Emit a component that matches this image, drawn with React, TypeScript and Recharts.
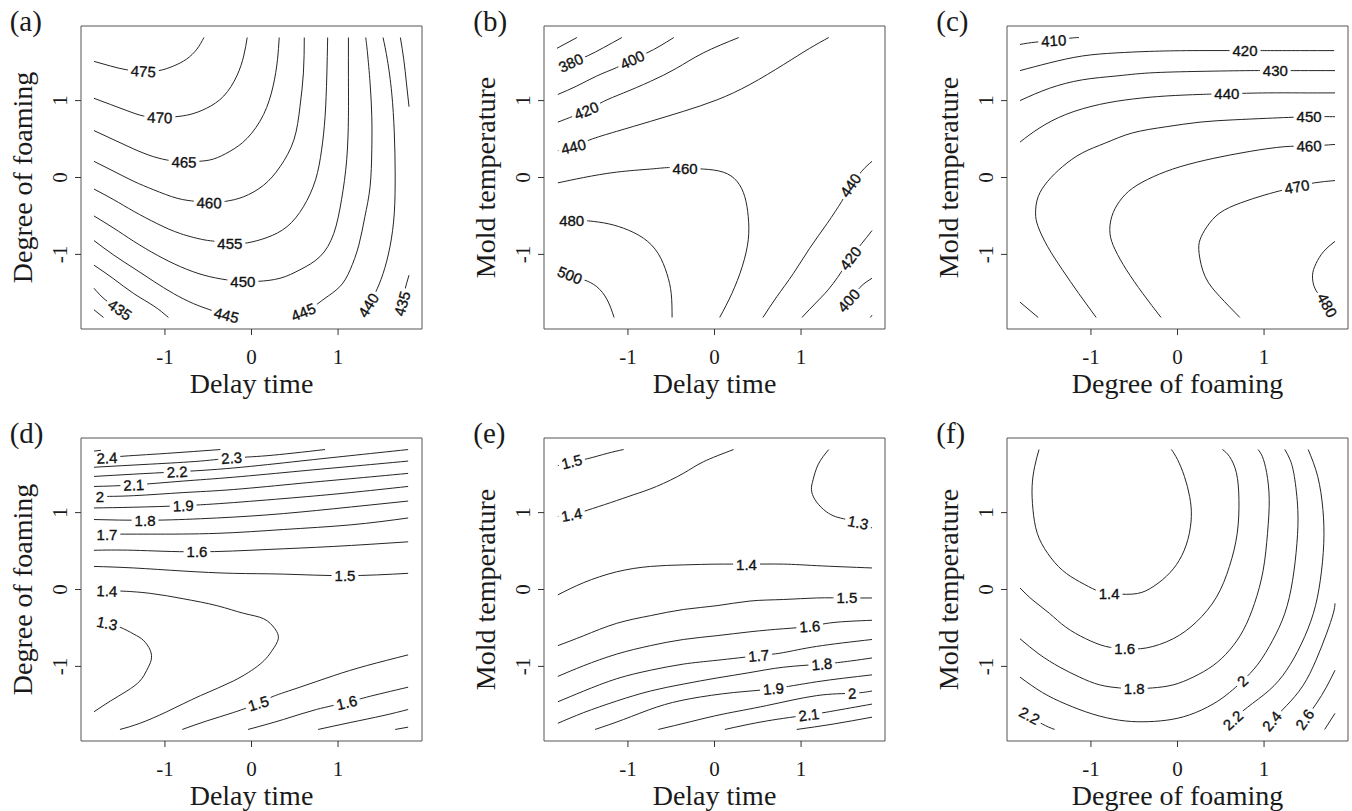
import React from 'react';
import { ComposedChart, Line, Scatter, XAxis, YAxis, ReferenceArea, Label } from 'recharts';

type Pair = [number, number];
type Tag = { text: string; x: number; y: number; angle: number };

// ---------- (a) Delay time vs Degree of foaming ----------
const a475: Pair[] = [[-1.82, 1.51], [-1.63, 1.45], [-1.44, 1.4], [-1.25, 1.38], [-1.07, 1.39], [-0.9, 1.45], [-0.75, 1.54], [-0.63, 1.67], [-0.55, 1.82]];
const a470: Pair[] = [[-1.82, 1.03], [-1.63, 0.95], [-1.44, 0.87], [-1.25, 0.8], [-1.06, 0.78], [-0.88, 0.79], [-0.71, 0.82], [-0.52, 0.9], [-0.32, 1.06], [-0.17, 1.32], [-0.09, 1.58], [-0.05, 1.82]];
const a465: Pair[] = [[-1.82, 0.61], [-1.59, 0.49], [-1.36, 0.37], [-1.13, 0.27], [-0.94, 0.22], [-0.78, 0.2], [-0.61, 0.21], [-0.44, 0.24], [-0.25, 0.34], [-0.05, 0.51], [0.14, 0.82], [0.25, 1.19], [0.3, 1.53], [0.32, 1.82]];
const a460: Pair[] = [[-1.82, 0.21], [-1.59, 0.08], [-1.36, -0.05], [-1.13, -0.16], [-0.86, -0.27], [-0.65, -0.31], [-0.49, -0.33], [-0.3, -0.31], [-0.09, -0.25], [0.14, -0.1], [0.33, 0.14], [0.49, 0.49], [0.56, 0.92], [0.6, 1.36], [0.61, 1.82]];
const a455: Pair[] = [[-1.82, -0.15], [-1.59, -0.29], [-1.36, -0.44], [-1.09, -0.6], [-0.82, -0.73], [-0.55, -0.81], [-0.42, -0.83], [-0.25, -0.86], [-0.05, -0.85], [0.18, -0.78], [0.41, -0.64], [0.6, -0.38], [0.74, -0.03], [0.81, 0.36], [0.85, 0.79], [0.87, 1.32], [0.88, 1.82]];
const a450: Pair[] = [[-1.82, -0.5], [-1.59, -0.66], [-1.36, -0.83], [-1.09, -1.01], [-0.82, -1.16], [-0.55, -1.27], [-0.29, -1.33], [-0.1, -1.35], [0.08, -1.35], [0.33, -1.31], [0.56, -1.2], [0.79, -1.03], [0.95, -0.73], [1.04, -0.29], [1.1, 0.23], [1.12, 0.79], [1.12, 1.3], [1.12, 1.82]];
const a445L: Pair[] = [[-1.82, -0.82], [-1.59, -1.01], [-1.36, -1.18], [-1.13, -1.35], [-0.9, -1.51], [-0.67, -1.64], [-0.48, -1.72], [-0.29, -1.79], [-0.13, -1.82]];
const a445R: Pair[] = [[0.49, -1.82], [0.6, -1.75], [0.74, -1.66], [0.85, -1.57], [1.02, -1.42], [1.14, -1.2], [1.24, -0.88], [1.31, -0.51], [1.37, -0.12], [1.39, 0.36], [1.39, 0.79], [1.37, 1.23], [1.34, 1.62], [1.32, 1.82]];
const a440L: Pair[] = [[-1.82, -1.14], [-1.59, -1.32], [-1.36, -1.51], [-1.13, -1.67], [-0.96, -1.82]];
const a440R: Pair[] = [[1.27, -1.82], [1.35, -1.66], [1.43, -1.5], [1.52, -1.25], [1.6, -0.9], [1.65, -0.46], [1.66, 0.06], [1.65, 0.58], [1.62, 1.1], [1.57, 1.53], [1.52, 1.82]];
const a435L: Pair[] = [[-1.82, -1.44], [-1.69, -1.59], [-1.52, -1.72], [-1.38, -1.82]];
const a435R: Pair[] = [[1.7, -1.82], [1.74, -1.64], [1.77, -1.47], [1.82, -1.27]];
const a435T: Pair[] = [[1.72, 1.82], [1.76, 1.53], [1.79, 1.23], [1.82, 0.92]];
const a430: Pair[] = [[-1.82, -1.72], [-1.71, -1.82]];
const aTags: Tag[] = [
  { text: '475', x: -1.25, y: 1.38, angle: 3 },
  { text: '470', x: -1.06, y: 0.78, angle: 2 },
  { text: '465', x: -0.78, y: 0.2, angle: 1 },
  { text: '460', x: -0.49, y: -0.33, angle: 1 },
  { text: '455', x: -0.25, y: -0.86, angle: 0 },
  { text: '450', x: -0.1, y: -1.35, angle: 0 },
  { text: '445', x: -0.29, y: -1.79, angle: 14 },
  { text: '445', x: 0.6, y: -1.75, angle: -22 },
  { text: '440', x: 1.35, y: -1.66, angle: -58 },
  { text: '435', x: 1.74, y: -1.64, angle: -75 },
  { text: '435', x: -1.52, y: -1.72, angle: 35 },
];

// ---------- (b) Delay time vs Mold temperature ----------
const b360: Pair[] = [[-1.82, 1.68], [-1.59, 1.82]];
const b380: Pair[] = [[-1.81, 1.39], [-1.66, 1.49], [-1.47, 1.58], [-1.28, 1.69], [-1.07, 1.82]];
const b400: Pair[] = [[-1.81, 1.08], [-1.59, 1.19], [-1.36, 1.32], [-1.13, 1.43], [-0.95, 1.53], [-0.78, 1.62], [-0.63, 1.71], [-0.47, 1.82]];
const b420: Pair[] = [[-1.81, 0.72], [-1.48, 0.87], [-1.28, 0.99], [-1.05, 1.1], [-0.74, 1.25], [-0.44, 1.42], [-0.13, 1.62], [0.28, 1.82]];
const b440: Pair[] = [[-1.81, 0.35], [-1.63, 0.4], [-1.44, 0.49], [-1.13, 0.6], [-0.74, 0.73], [-0.36, 0.86], [0.03, 1.01], [0.41, 1.21], [0.8, 1.47], [1.1, 1.68], [1.32, 1.82]];
const b460: Pair[] = [[-1.81, -0.07], [-1.51, 0.0], [-1.13, 0.07], [-0.74, 0.11], [-0.51, 0.13], [-0.34, 0.12], [-0.13, 0.11], [0.1, 0.07], [0.26, -0.05], [0.35, -0.25], [0.39, -0.51], [0.39, -0.81], [0.32, -1.16], [0.2, -1.51], [0.06, -1.82]];
const b480: Pair[] = [[-1.78, -0.56], [-1.65, -0.56], [-1.51, -0.56], [-1.28, -0.59], [-1.05, -0.66], [-0.82, -0.79], [-0.65, -0.99], [-0.55, -1.25], [-0.5, -1.51], [-0.49, -1.82]];
const b500: Pair[] = [[-1.78, -1.2], [-1.67, -1.27], [-1.51, -1.33], [-1.36, -1.42], [-1.24, -1.59], [-1.16, -1.82]];
const b440R: Pair[] = [[0.56, -1.82], [0.72, -1.55], [0.91, -1.25], [1.1, -0.92], [1.3, -0.6], [1.47, -0.31], [1.57, -0.12], [1.7, 0.08], [1.82, 0.21]];
const b420R: Pair[] = [[1.01, -1.82], [1.18, -1.62], [1.37, -1.38], [1.57, -1.05], [1.7, -0.86], [1.82, -0.69]];
const b400R: Pair[] = [[1.47, -1.75], [1.55, -1.62], [1.68, -1.43], [1.82, -1.31]];
const b380R: Pair[] = [[1.8, -1.82], [1.82, -1.79]];
const bTags: Tag[] = [
  { text: '380', x: -1.66, y: 1.49, angle: -25 },
  { text: '400', x: -0.95, y: 1.53, angle: -25 },
  { text: '420', x: -1.48, y: 0.87, angle: -22 },
  { text: '440', x: -1.63, y: 0.4, angle: -13 },
  { text: '460', x: -0.34, y: 0.12, angle: 0 },
  { text: '480', x: -1.65, y: -0.56, angle: 0 },
  { text: '500', x: -1.67, y: -1.27, angle: 22 },
  { text: '440', x: 1.57, y: -0.1, angle: -55 },
  { text: '420', x: 1.57, y: -1.05, angle: -52 },
  { text: '400', x: 1.55, y: -1.6, angle: -48 },
];

// ---------- (c) Degree of foaming vs Mold temperature ----------
const c410: Pair[] = [[-1.82, 1.73], [-1.64, 1.76], [-1.43, 1.78], [-1.25, 1.81], [-1.14, 1.82]];
const c420: Pair[] = [[-1.82, 1.39], [-1.48, 1.49], [-1.1, 1.58], [-0.71, 1.62], [-0.32, 1.64], [0.18, 1.65], [0.78, 1.65], [1.04, 1.65], [1.42, 1.65], [1.81, 1.65]];
const c430: Pair[] = [[-1.82, 1.0], [-1.48, 1.16], [-1.1, 1.27], [-0.71, 1.32], [-0.32, 1.36], [0.26, 1.38], [0.84, 1.39], [1.13, 1.39], [1.42, 1.39], [1.82, 1.39]];
const c440: Pair[] = [[-1.82, 0.46], [-1.6, 0.64], [-1.29, 0.82], [-0.9, 0.95], [-0.52, 1.02], [-0.13, 1.06], [0.26, 1.08], [0.57, 1.09], [1.04, 1.1], [1.42, 1.1], [1.82, 1.1]];
const c450: Pair[] = [[-0.94, -1.82], [-1.14, -1.51], [-1.33, -1.2], [-1.5, -0.9], [-1.61, -0.64], [-1.64, -0.46], [-1.61, -0.25], [-1.5, -0.05], [-1.33, 0.14], [-1.1, 0.32], [-0.83, 0.45], [-0.52, 0.58], [-0.13, 0.66], [0.26, 0.72], [0.65, 0.75], [1.04, 0.77], [1.52, 0.79], [1.82, 0.79]];
const c460: Pair[] = [[-0.19, -1.82], [-0.4, -1.51], [-0.59, -1.2], [-0.72, -0.94], [-0.78, -0.73], [-0.76, -0.51], [-0.67, -0.31], [-0.52, -0.14], [-0.28, 0.01], [0.03, 0.14], [0.42, 0.25], [0.84, 0.34], [1.23, 0.4], [1.52, 0.41], [1.82, 0.43]];
const c470: Pair[] = [[0.72, -1.82], [0.49, -1.55], [0.32, -1.29], [0.25, -0.99], [0.26, -0.81], [0.34, -0.64], [0.49, -0.46], [0.73, -0.33], [1.0, -0.23], [1.23, -0.16], [1.38, -0.12], [1.58, -0.07], [1.82, -0.04]];
const c480: Pair[] = [[1.82, -0.83], [1.69, -0.96], [1.6, -1.12], [1.56, -1.27], [1.58, -1.42], [1.64, -1.53], [1.73, -1.66], [1.79, -1.79]];
const c440B: Pair[] = [[-1.82, -1.62], [-1.61, -1.82]];
const cTags: Tag[] = [
  { text: '410', x: -1.43, y: 1.78, angle: -3 },
  { text: '420', x: 0.78, y: 1.65, angle: 0 },
  { text: '430', x: 1.13, y: 1.39, angle: 0 },
  { text: '440', x: 0.57, y: 1.09, angle: 0 },
  { text: '450', x: 1.52, y: 0.79, angle: 0 },
  { text: '460', x: 1.52, y: 0.41, angle: -2 },
  { text: '470', x: 1.38, y: -0.12, angle: -10 },
  { text: '480', x: 1.73, y: -1.66, angle: 62 },
];

// ---------- (d) Delay time vs Degree of foaming ----------
const d25: Pair[] = [[-1.82, 1.8], [-1.74, 1.81]];
const d24: Pair[] = [[-1.82, 1.7], [-1.67, 1.71], [-1.52, 1.73], [-0.98, 1.77], [-0.36, 1.82]];
const d23: Pair[] = [[-1.82, 1.59], [-1.17, 1.63], [-0.59, 1.67], [-0.23, 1.71], [0.18, 1.74], [0.85, 1.82]];
const d22: Pair[] = [[-1.82, 1.47], [-1.36, 1.5], [-0.86, 1.53], [-0.21, 1.58], [0.56, 1.67], [1.14, 1.74], [1.81, 1.82]];
const d21: Pair[] = [[-1.82, 1.34], [-1.36, 1.36], [-0.79, 1.41], [-0.21, 1.46], [0.56, 1.54], [1.14, 1.6], [1.81, 1.67]];
const d20: Pair[] = [[-1.82, 1.21], [-1.75, 1.21], [-1.36, 1.22], [-0.79, 1.26], [-0.21, 1.3], [0.56, 1.38], [1.14, 1.44], [1.81, 1.51]];
const d19: Pair[] = [[-1.82, 1.06], [-1.36, 1.07], [-0.79, 1.09], [-0.21, 1.13], [0.56, 1.2], [1.14, 1.26], [1.81, 1.34]];
const d18: Pair[] = [[-1.82, 0.91], [-1.23, 0.9], [-0.59, 0.92], [0.18, 0.97], [0.95, 1.05], [1.81, 1.15]];
const d17: Pair[] = [[-1.82, 0.72], [-1.67, 0.72], [-1.17, 0.72], [-0.4, 0.73], [0.37, 0.78], [1.14, 0.84], [1.81, 0.93]];
const d16: Pair[] = [[-1.82, 0.51], [-1.36, 0.51], [-0.63, 0.49], [0.18, 0.52], [0.95, 0.56], [1.81, 0.62]];
const d15T: Pair[] = [[-1.82, 0.3], [-1.36, 0.28], [-0.79, 0.24], [-0.21, 0.21], [0.37, 0.2], [1.08, 0.18], [1.81, 0.21]];
const d14: Pair[] = [[-1.75, -0.01], [-1.67, -0.02], [-1.52, -0.02], [-1.17, -0.05], [-0.79, -0.12], [-0.4, -0.21], [-0.09, -0.31], [0.14, -0.38], [0.27, -0.51], [0.31, -0.64], [0.24, -0.79], [0.1, -0.97], [-0.21, -1.19], [-0.59, -1.38], [-0.98, -1.59], [-1.29, -1.74], [-1.52, -1.82]];
const d13: Pair[] = [[-1.81, -0.36], [-1.67, -0.44], [-1.52, -0.49], [-1.36, -0.58], [-1.25, -0.66], [-1.17, -0.79], [-1.16, -0.92], [-1.21, -1.05], [-1.29, -1.19], [-1.44, -1.32], [-1.63, -1.45], [-1.82, -1.59]];
const d15B: Pair[] = [[-0.8, -1.82], [-0.52, -1.71], [-0.21, -1.6], [0.08, -1.48], [0.25, -1.39], [0.56, -1.27], [0.95, -1.12], [1.33, -0.99], [1.81, -0.85]];
const d16B: Pair[] = [[-0.04, -1.82], [0.37, -1.69], [0.75, -1.56], [1.1, -1.47], [1.33, -1.4], [1.81, -1.27]];
const d17B: Pair[] = [[0.77, -1.82], [1.14, -1.73], [1.52, -1.64], [1.81, -1.56]];
const d18B: Pair[] = [[1.66, -1.82], [1.81, -1.79]];
const dTags: Tag[] = [
  { text: '2.4', x: -1.67, y: 1.71, angle: -2 },
  { text: '2.3', x: -0.23, y: 1.71, angle: -4 },
  { text: '2.2', x: -0.86, y: 1.53, angle: -3 },
  { text: '2.1', x: -1.36, y: 1.36, angle: -2 },
  { text: '2', x: -1.75, y: 1.21, angle: 0 },
  { text: '1.9', x: -0.79, y: 1.09, angle: -2 },
  { text: '1.8', x: -1.23, y: 0.9, angle: 0 },
  { text: '1.7', x: -1.67, y: 0.72, angle: 0 },
  { text: '1.6', x: -0.63, y: 0.49, angle: 0 },
  { text: '1.5', x: 1.08, y: 0.18, angle: 0 },
  { text: '1.4', x: -1.67, y: -0.02, angle: 2 },
  { text: '1.3', x: -1.67, y: -0.44, angle: 12 },
  { text: '1.5', x: 0.08, y: -1.48, angle: -17 },
  { text: '1.6', x: 1.1, y: -1.47, angle: -13 },
];

// ---------- (e) Delay time vs Mold temperature ----------
const e15T: Pair[] = [[-1.81, 1.61], [-1.65, 1.66], [-1.47, 1.7], [-1.24, 1.77], [-1.05, 1.82]];
const e14T: Pair[] = [[-1.81, 0.95], [-1.65, 0.97], [-1.47, 1.03], [-1.2, 1.13], [-0.94, 1.23], [-0.67, 1.34], [-0.36, 1.51], [-0.13, 1.66], [0.22, 1.82]];
const e13: Pair[] = [[1.32, 1.82], [1.2, 1.63], [1.14, 1.43], [1.12, 1.3], [1.16, 1.17], [1.26, 1.04], [1.37, 0.96], [1.49, 0.92], [1.66, 0.87], [1.82, 0.8]];
const e14: Pair[] = [[-1.81, -0.07], [-1.51, 0.09], [-1.13, 0.23], [-0.74, 0.3], [-0.36, 0.32], [0.03, 0.33], [0.37, 0.33], [0.8, 0.33], [1.18, 0.31], [1.82, 0.28]];
const e15: Pair[] = [[-1.81, -0.73], [-1.51, -0.6], [-1.13, -0.44], [-0.74, -0.34], [-0.36, -0.26], [0.03, -0.21], [0.41, -0.15], [0.8, -0.13], [1.18, -0.11], [1.53, -0.11], [1.82, -0.11]];
const e16: Pair[] = [[-1.81, -1.13], [-1.51, -0.99], [-1.13, -0.84], [-0.74, -0.73], [-0.36, -0.65], [0.03, -0.6], [0.41, -0.55], [0.8, -0.51], [1.1, -0.48], [1.37, -0.43], [1.82, -0.4]];
const e17: Pair[] = [[-1.81, -1.46], [-1.51, -1.32], [-1.13, -1.16], [-0.74, -1.05], [-0.36, -0.97], [0.03, -0.92], [0.51, -0.86], [0.8, -0.82], [1.18, -0.74], [1.82, -0.65]];
const e18: Pair[] = [[-1.81, -1.74], [-1.51, -1.6], [-1.13, -1.45], [-0.74, -1.32], [-0.36, -1.23], [0.03, -1.15], [0.41, -1.08], [0.8, -1.01], [1.24, -0.97], [1.57, -0.93], [1.82, -0.89]];
const e19: Pair[] = [[-1.38, -1.82], [-1.05, -1.69], [-0.67, -1.53], [-0.28, -1.42], [0.22, -1.34], [0.68, -1.29], [1.18, -1.2], [1.82, -1.11]];
const e20: Pair[] = [[-0.65, -1.82], [-0.28, -1.72], [0.1, -1.62], [0.6, -1.51], [1.18, -1.38], [1.59, -1.35], [1.82, -1.32]];
const e21: Pair[] = [[0.12, -1.82], [0.6, -1.71], [1.09, -1.63], [1.37, -1.58], [1.82, -1.49]];
const e22: Pair[] = [[0.95, -1.82], [1.37, -1.75], [1.82, -1.66]];
const eTags: Tag[] = [
  { text: '1.5', x: -1.65, y: 1.66, angle: -14 },
  { text: '1.4', x: -1.65, y: 0.97, angle: -10 },
  { text: '1.3', x: 1.66, y: 0.87, angle: 12 },
  { text: '1.4', x: 0.37, y: 0.33, angle: 0 },
  { text: '1.5', x: 1.53, y: -0.11, angle: 0 },
  { text: '1.6', x: 1.1, y: -0.48, angle: -4 },
  { text: '1.7', x: 0.51, y: -0.86, angle: -5 },
  { text: '1.8', x: 1.24, y: -0.97, angle: -5 },
  { text: '1.9', x: 0.68, y: -1.29, angle: -5 },
  { text: '2', x: 1.59, y: -1.35, angle: -3 },
  { text: '2.1', x: 1.09, y: -1.63, angle: -7 },
];

// ---------- (f) Degree of foaming vs Mold temperature ----------
const f14: Pair[] = [[-1.6, 1.82], [-1.65, 1.6], [-1.68, 1.34], [-1.67, 1.04], [-1.62, 0.73], [-1.5, 0.47], [-1.33, 0.25], [-1.13, 0.1], [-0.94, -0.01], [-0.79, -0.05], [-0.52, -0.06], [-0.32, 0.01], [-0.13, 0.17], [0.02, 0.38], [0.12, 0.65], [0.16, 0.95], [0.14, 1.21], [0.08, 1.47], [0.0, 1.69], [-0.07, 1.82]];
const f16: Pair[] = [[-1.82, 0.02], [-1.67, -0.14], [-1.48, -0.31], [-1.29, -0.49], [-1.06, -0.64], [-0.83, -0.74], [-0.61, -0.77], [-0.36, -0.76], [-0.05, -0.64], [0.22, -0.42], [0.45, -0.1], [0.6, 0.3], [0.69, 0.73], [0.71, 1.17], [0.68, 1.52], [0.6, 1.73], [0.52, 1.82]];
const f18: Pair[] = [[-1.82, -0.64], [-1.6, -0.84], [-1.36, -1.01], [-1.13, -1.14], [-0.9, -1.24], [-0.67, -1.28], [-0.5, -1.29], [-0.29, -1.28], [-0.05, -1.24], [0.18, -1.14], [0.41, -0.99], [0.6, -0.79], [0.76, -0.53], [0.89, -0.18], [0.99, 0.25], [1.04, 0.73], [1.06, 1.17], [1.03, 1.52], [0.98, 1.73], [0.93, 1.82]];
const f20: Pair[] = [[-1.82, -1.14], [-1.56, -1.34], [-1.29, -1.49], [-0.98, -1.62], [-0.67, -1.7], [-0.4, -1.72], [-0.13, -1.7], [0.14, -1.63], [0.41, -1.49], [0.6, -1.34], [0.75, -1.19], [0.93, -0.97], [1.1, -0.66], [1.24, -0.31], [1.33, 0.12], [1.38, 0.6], [1.39, 1.04], [1.35, 1.47], [1.3, 1.69], [1.24, 1.82]];
const f22L: Pair[] = [[-1.82, -1.56], [-1.71, -1.64], [-1.56, -1.75], [-1.42, -1.82]];
const f22R: Pair[] = [[0.54, -1.82], [0.64, -1.7], [0.81, -1.53], [1.06, -1.31], [1.26, -1.05], [1.43, -0.71], [1.57, -0.31], [1.65, 0.12], [1.69, 0.6], [1.68, 1.04], [1.62, 1.47], [1.51, 1.82]];
const f24: Pair[] = [[1.03, -1.82], [1.09, -1.71], [1.26, -1.51], [1.45, -1.25], [1.6, -0.92], [1.72, -0.58], [1.8, -0.31], [1.82, -0.18]];
const f26: Pair[] = [[1.39, -1.82], [1.47, -1.69], [1.6, -1.49], [1.72, -1.27], [1.82, -1.05]];
const f28: Pair[] = [[1.7, -1.82], [1.82, -1.61]];
const fTags: Tag[] = [
  { text: '1.4', x: -0.79, y: -0.05, angle: 0 },
  { text: '1.6', x: -0.61, y: -0.77, angle: 0 },
  { text: '1.8', x: -0.5, y: -1.29, angle: 0 },
  { text: '2', x: 0.75, y: -1.19, angle: -42 },
  { text: '2.2', x: -1.71, y: -1.64, angle: 28 },
  { text: '2.2', x: 0.64, y: -1.7, angle: -42 },
  { text: '2.4', x: 1.09, y: -1.71, angle: -50 },
  { text: '2.6', x: 1.47, y: -1.69, angle: -55 },
];

const TICKS = [-1, 0, 1];
const LIM = 1.97;

const SERIF = '"Liberation Serif", "Times New Roman", serif';
const SANS = '"Liberation Sans", Arial, Helvetica, sans-serif';

const PLOT_W = 341;
const PLOT_H = 303;
const Y_AXIS_W = 80;
const X_AXIS_H = 78;
const M_TOP = 8;
const M_RIGHT = 6;
const COL_LEFT = [80.7, 544.3, 1007.3];
const ROW_TOP = [26, 437.7];

type Panel = {
  id: string;
  title: string;
  xTitle: string;
  yTitle: string;
  col: number;
  row: number;
  lines: Pair[][];
  tags: Tag[];
};

const panels: Panel[] = [
  { id: 'a', title: '(a)', xTitle: 'Delay time', yTitle: 'Degree of foaming', col: 0, row: 0,
    lines: [a475, a470, a465, a460, a455, a450, a445L, a445R, a440L, a440R, a435L, a435R, a435T, a430], tags: aTags },
  { id: 'b', title: '(b)', xTitle: 'Delay time', yTitle: 'Mold temperature', col: 1, row: 0,
    lines: [b360, b380, b400, b420, b440, b460, b480, b500, b440R, b420R, b400R, b380R], tags: bTags },
  { id: 'c', title: '(c)', xTitle: 'Degree of foaming', yTitle: 'Mold temperature', col: 2, row: 0,
    lines: [c410, c420, c430, c440, c450, c460, c470, c480, c440B], tags: cTags },
  { id: 'd', title: '(d)', xTitle: 'Delay time', yTitle: 'Degree of foaming', col: 0, row: 1,
    lines: [d25, d24, d23, d22, d21, d20, d19, d18, d17, d16, d15T, d14, d13, d15B, d16B, d17B, d18B], tags: dTags },
  { id: 'e', title: '(e)', xTitle: 'Delay time', yTitle: 'Mold temperature', col: 1, row: 1,
    lines: [e15T, e14T, e13, e14, e15, e16, e17, e18, e19, e20, e21, e22], tags: eTags },
  { id: 'f', title: '(f)', xTitle: 'Degree of foaming', yTitle: 'Mold temperature', col: 2, row: 1,
    lines: [f14, f16, f18, f20, f22L, f22R, f24, f26, f28], tags: fTags },
];

const toRows = (pairs: Pair[]) => pairs.map(([x, y]) => ({ x, y }));

// Contour level label: text laid along the line with a white gap behind it
function ContourTag(props: any) {
  const { cx, cy, payload } = props;
  if (cx == null || cy == null || !payload) return null;
  const text: string = payload.text;
  const w = text.split('').reduce((s, c) => s + (c === '.' ? 4.2 : 8.3), 0);
  return (
    <g transform={`translate(${cx},${cy}) rotate(${payload.angle})`}>
      <rect x={-w / 2 - 3} y={-5.5} width={w + 6} height={11} fill="#ffffff" />
      <text
        x={0}
        y={0}
        dy="0.36em"
        textAnchor="middle"
        fontFamily={SANS}
        fontSize={15}
        fill="#111"
        stroke="#111"
        strokeWidth={0.35}
      >
        {text}
      </text>
    </g>
  );
}

function YTick(props: any) {
  const { x, y, payload } = props;
  return (
    <text
      transform={`translate(${x},${y}) rotate(-90)`}
      dy="0.35em"
      textAnchor="middle"
      fontFamily={SERIF}
      fontSize={21}
      fill="#1a1a1a"
    >
      {String(payload.value)}
    </text>
  );
}

const xTitleContent = (text: string) => (p: any) => {
  const vb = p.viewBox || {};
  return (
    <text x={vb.x + vb.width / 2} y={vb.y + 54} dy="0.35em" textAnchor="middle" fontFamily={SERIF} fontSize={28} fill="#1a1a1a">
      {text}
    </text>
  );
};

const yTitleContent = (text: string) => (p: any) => {
  const vb = p.viewBox || {};
  const cx = vb.x + vb.width - 59;
  const cy = vb.y + vb.height / 2;
  return (
    <text transform={`translate(${cx},${cy}) rotate(-90)`} dy="0.35em" textAnchor="middle" fontFamily={SERIF} fontSize={28} fill="#1a1a1a">
      {text}
    </text>
  );
};

function ContourPanel({ panel }: { panel: Panel }) {
  const boxLeft = COL_LEFT[panel.col];
  const boxTop = ROW_TOP[panel.row];
  const width = Y_AXIS_W + PLOT_W + M_RIGHT;
  const height = M_TOP + PLOT_H + X_AXIS_H;
  return (
    <>
      <div
        style={{
          position: 'absolute',
          left: boxLeft - 71,
          top: boxTop - 19,
          fontFamily: SERIF,
          fontSize: 29,
          lineHeight: '29px',
          color: '#1a1a1a',
        }}
      >
        {panel.title}
      </div>
      <div style={{ position: 'absolute', left: boxLeft - Y_AXIS_W, top: boxTop - M_TOP }}>
        <ComposedChart width={width} height={height} margin={{ top: M_TOP, right: M_RIGHT, left: 0, bottom: 0 }}>
          <XAxis
            type="number"
            dataKey="x"
            domain={[-LIM, LIM]}
            ticks={TICKS}
            axisLine={false}
            tickLine={{ stroke: '#333' }}
            tickSize={6}
            tickMargin={14}
            height={X_AXIS_H}
            tick={{ fontFamily: SERIF, fontSize: 21, fill: '#1a1a1a' }}
            allowDataOverflow
          >
            <Label content={xTitleContent(panel.xTitle)} />
          </XAxis>
          <YAxis
            type="number"
            dataKey="y"
            domain={[-LIM, LIM]}
            ticks={TICKS}
            axisLine={false}
            tickLine={{ stroke: '#333' }}
            tickSize={6}
            tickMargin={15}
            width={Y_AXIS_W}
            tick={<YTick />}
            allowDataOverflow
          >
            <Label content={yTitleContent(panel.yTitle)} />
          </YAxis>
          <ReferenceArea x1={-LIM} x2={LIM} y1={-LIM} y2={LIM} fill="none" stroke="#555" strokeWidth={1} />
          {panel.lines.map((pts, i) => (
            <Line
              key={`${panel.id}-${i}`}
              data={toRows(pts)}
              dataKey="y"
              type="natural"
              stroke="#262626"
              strokeWidth={1}
              dot={false}
              activeDot={false}
              isAnimationActive={false}
            />
          ))}
          <Scatter data={panel.tags} dataKey="y" shape={ContourTag} isAnimationActive={false} />
        </ComposedChart>
      </div>
    </>
  );
}

export default function App() {
  return (
    <div style={{ position: 'absolute', left: 0, top: 0, width: 1352, height: 811, background: '#fff', overflow: 'hidden' }}>
      {panels.map((p) => (
        <ContourPanel key={p.id} panel={p} />
      ))}
    </div>
  );
}
